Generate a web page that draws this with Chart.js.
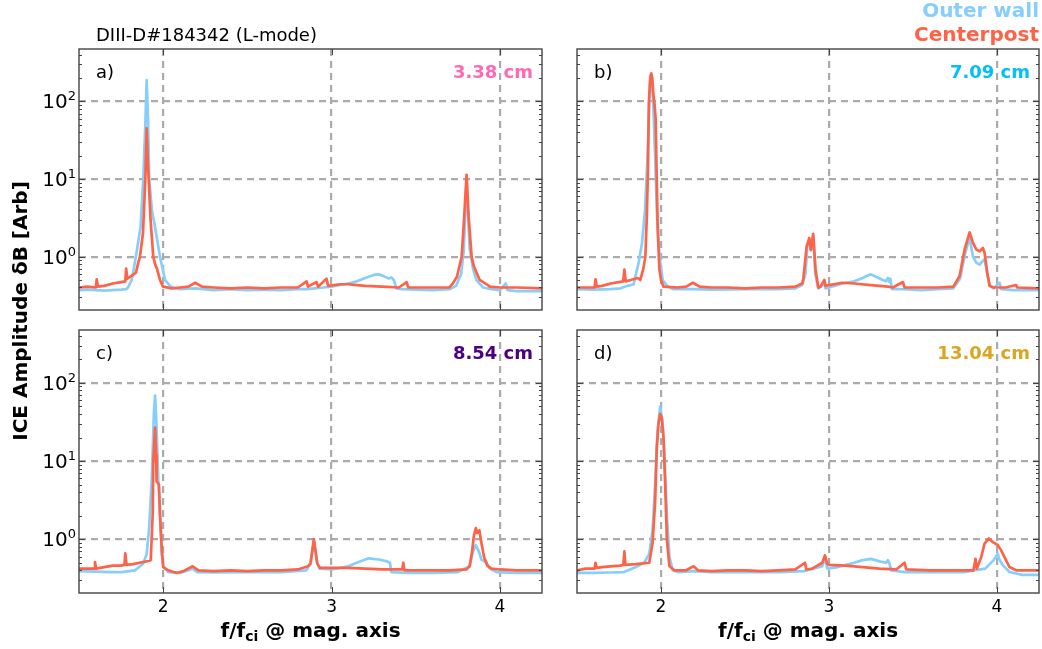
<!DOCTYPE html>
<html>
<head>
<meta charset="utf-8">
<script src="https://cdn.jsdelivr.net/npm/chart.js@4.4.1/dist/chart.umd.min.js"></script>
<style>
  body { margin: 0; background: #fff; }
  #wrap { position: relative; width: 1042px; height: 649px; }
  #wrap canvas { position: absolute; left: 0; top: 0; }
</style>
</head>
<body>
<div id="wrap">
  <canvas id="pa" width="1042" height="649"></canvas>
  <canvas id="pb" width="1042" height="649"></canvas>
  <canvas id="pc" width="1042" height="649"></canvas>
  <canvas id="pd" width="1042" height="649"></canvas>
</div>
<script>
"use strict";

// [f/fci, amplitude]
var OUTER_A = [[1.50,0.37],[1.55,0.375],[1.60,0.37],[1.65,0.365],[1.70,0.37],[1.75,0.375],[1.78,0.38],[1.791,0.40],[1.813,0.50],[1.838,1.0],[1.866,2.45],[1.882,10],[1.895,60],[1.902,188],[1.91,60],[1.917,10],[1.933,4],[1.951,2.45],[1.981,1.0],[2.011,0.5],[2.04,0.42],[2.07,0.39],[2.10,0.38],[2.19,0.39],[2.3,0.37],[2.4,0.38],[2.5,0.37],[2.6,0.375],[2.7,0.37],[2.8,0.38],[2.85,0.38],[2.9,0.39],[2.95,0.40],[3.0,0.41],[3.05,0.43],[3.1,0.45],[3.15,0.48],[3.2,0.53],[3.25,0.58],[3.28,0.59],[3.31,0.56],[3.34,0.52],[3.355,0.54],[3.37,0.50],[3.385,0.39],[3.42,0.38],[3.5,0.375],[3.6,0.37],[3.7,0.38],[3.74,0.42],[3.77,0.6],[3.785,1.2],[3.795,4],[3.802,10],[3.81,4],[3.82,1.3],[3.84,0.7],[3.86,0.5],[3.9,0.4],[3.95,0.38],[4.0,0.37],[4.035,0.45],[4.045,0.37],[4.1,0.36],[4.2,0.36],[4.25,0.36]];
var CENTER_A = [[1.50,0.40],[1.55,0.41],[1.60,0.40],[1.605,0.51],[1.612,0.41],[1.65,0.42],[1.70,0.45],[1.75,0.47],[1.775,0.48],[1.78,0.70],[1.787,0.52],[1.81,0.56],[1.838,0.62],[1.85,0.8],[1.862,1.0],[1.88,2.0],[1.894,10],[1.902,45],[1.908,18],[1.914,10],[1.925,3],[1.941,1.0],[1.952,0.8],[1.963,0.7],[1.981,0.5],[1.999,0.41],[2.05,0.39],[2.1,0.40],[2.15,0.41],[2.19,0.46],[2.23,0.41],[2.3,0.40],[2.4,0.39],[2.5,0.40],[2.6,0.39],[2.7,0.40],[2.8,0.40],[2.852,0.48],[2.86,0.41],[2.911,0.47],[2.92,0.41],[2.97,0.52],[2.98,0.42],[3.05,0.44],[3.1,0.44],[3.15,0.43],[3.2,0.42],[3.3,0.41],[3.4,0.40],[3.446,0.47],[3.455,0.40],[3.5,0.40],[3.6,0.40],[3.70,0.40],[3.72,0.45],[3.745,0.55],[3.773,1.0],[3.788,3.3],[3.802,11.3],[3.814,3.3],[3.832,1.0],[3.845,0.75],[3.862,0.62],[3.88,0.5],[3.921,0.44],[3.94,0.41],[4.0,0.40],[4.1,0.40],[4.25,0.39]];

var OUTER_B = [[1.50,0.38],[1.6,0.375],[1.7,0.38],[1.76,0.39],[1.80,0.42],[1.837,0.44],[1.867,0.84],[1.887,1.5],[1.905,4],[1.92,20],[1.935,215],[1.945,200],[1.955,80],[1.965,20],[1.975,4],[1.985,1.5],[1.996,0.84],[2.01,0.5],[2.036,0.42],[2.07,0.38],[2.1,0.38],[2.2,0.38],[2.3,0.375],[2.5,0.38],[2.7,0.38],[2.8,0.39],[2.84,0.43],[2.86,0.6],[2.87,1.3],[2.883,1.6],[2.892,1.2],[2.906,1.75],[2.918,0.6],[2.936,0.39],[2.972,0.45],[2.98,0.39],[3.0,0.40],[3.08,0.45],[3.15,0.48],[3.2,0.53],[3.23,0.57],[3.25,0.59],[3.28,0.55],[3.32,0.50],[3.34,0.48],[3.35,0.53],[3.36,0.47],[3.365,0.52],[3.375,0.38],[3.45,0.38],[3.55,0.37],[3.65,0.38],[3.74,0.39],[3.78,0.52],[3.81,1.1],[3.837,1.75],[3.857,1.0],[3.877,0.83],[3.897,0.79],[3.916,0.88],[3.926,0.93],[3.942,0.6],[3.956,0.42],[3.98,0.39],[4.015,0.46],[4.025,0.38],[4.1,0.37],[4.25,0.37]];
var CENTER_B = [[1.50,0.40],[1.55,0.40],[1.605,0.40],[1.61,0.51],[1.617,0.41],[1.65,0.42],[1.70,0.45],[1.75,0.47],[1.775,0.48],[1.782,0.68],[1.79,0.48],[1.82,0.50],[1.86,0.53],[1.877,0.50],[1.895,0.7],[1.907,1.0],[1.915,3],[1.922,12],[1.928,100],[1.936,190],[1.942,230],[1.948,200],[1.955,120],[1.962,90],[1.968,60],[1.974,12],[1.98,2.5],[1.99,0.7],[2.0,0.5],[2.015,0.41],[2.1,0.40],[2.15,0.41],[2.19,0.46],[2.23,0.41],[2.3,0.40],[2.4,0.40],[2.5,0.39],[2.6,0.40],[2.7,0.40],[2.8,0.41],[2.84,0.45],[2.847,0.51],[2.867,1.36],[2.883,1.74],[2.892,1.23],[2.906,1.97],[2.92,0.68],[2.936,0.40],[2.95,0.41],[2.972,0.50],[2.98,0.42],[3.0,0.43],[3.08,0.46],[3.15,0.45],[3.25,0.43],[3.35,0.41],[3.38,0.40],[3.44,0.47],[3.45,0.40],[3.55,0.40],[3.65,0.40],[3.74,0.41],[3.777,0.56],[3.807,1.23],[3.837,2.05],[3.857,1.5],[3.877,1.23],[3.897,1.17],[3.916,1.29],[3.926,1.12],[3.942,0.62],[3.956,0.42],[3.98,0.40],[4.05,0.40],[4.114,0.43],[4.12,0.40],[4.25,0.39]];

var OUTER_C = [[1.5,0.39],[1.6,0.385],[1.7,0.38],[1.75,0.38],[1.833,0.40],[1.882,0.49],[1.902,0.65],[1.917,1.44],[1.932,5.8],[1.945,42],[1.952,68.6],[1.96,30],[1.971,5.8],[1.981,2],[1.991,0.65],[2.0,0.45],[2.03,0.38],[2.1,0.37],[2.175,0.42],[2.2,0.38],[2.3,0.375],[2.5,0.38],[2.7,0.38],[2.85,0.40],[2.875,0.49],[2.895,0.95],[2.915,0.49],[2.93,0.42],[3.0,0.41],[3.1,0.45],[3.15,0.5],[3.22,0.57],[3.28,0.55],[3.33,0.52],[3.347,0.5],[3.355,0.38],[3.45,0.37],[3.6,0.37],[3.75,0.38],[3.82,0.45],[3.84,0.7],[3.857,0.84],[3.875,0.7],[3.89,0.55],[3.92,0.5],[3.94,0.42],[3.98,0.38],[4.1,0.37],[4.25,0.37]];
var CENTER_C = [[1.5,0.42],[1.59,0.42],[1.595,0.51],[1.602,0.42],[1.65,0.44],[1.7,0.46],[1.75,0.46],[1.77,0.47],[1.775,0.66],[1.782,0.47],[1.82,0.48],[1.86,0.50],[1.9,0.52],[1.926,0.54],[1.938,2.16],[1.941,9.6],[1.952,26.8],[1.958,12],[1.961,5.5],[1.975,5.0],[1.981,2.1],[1.991,0.8],[2.0,0.44],[2.03,0.40],[2.08,0.37],[2.12,0.39],[2.175,0.45],[2.21,0.40],[2.3,0.39],[2.4,0.40],[2.5,0.39],[2.6,0.40],[2.7,0.40],[2.8,0.41],[2.86,0.45],[2.875,0.49],[2.895,1.0],[2.915,0.49],[2.93,0.43],[3.0,0.43],[3.1,0.43],[3.2,0.42],[3.3,0.41],[3.42,0.41],[3.426,0.50],[3.433,0.40],[3.5,0.40],[3.6,0.40],[3.7,0.40],[3.8,0.41],[3.82,0.45],[3.835,0.7],[3.845,1.1],[3.857,1.39],[3.866,1.2],[3.878,1.3],[3.89,0.9],[3.905,0.6],[3.925,0.46],[3.95,0.42],[4.0,0.41],[4.1,0.40],[4.25,0.40]];

var OUTER_D = [[1.5,0.37],[1.6,0.37],[1.7,0.375],[1.78,0.38],[1.85,0.44],[1.9,0.5],[1.93,0.65],[1.95,1.3],[1.965,5],[1.98,25],[1.995,50],[2.01,30],[2.02,12],[2.035,2],[2.05,0.6],[2.07,0.4],[2.1,0.38],[2.2,0.39],[2.3,0.38],[2.5,0.38],[2.7,0.38],[2.85,0.39],[2.96,0.45],[2.976,0.58],[2.99,0.42],[3.05,0.44],[3.15,0.5],[3.2,0.54],[3.25,0.56],[3.3,0.52],[3.34,0.50],[3.35,0.54],[3.36,0.49],[3.37,0.40],[3.45,0.38],[3.6,0.38],[3.8,0.38],[3.93,0.42],[3.98,0.54],[4.005,0.65],[4.012,0.56],[4.03,0.48],[4.074,0.38],[4.15,0.35],[4.25,0.35]];
var CENTER_D = [[1.5,0.40],[1.55,0.42],[1.605,0.42],[1.61,0.50],[1.617,0.43],[1.65,0.44],[1.7,0.45],[1.758,0.46],[1.776,0.47],[1.782,0.70],[1.788,0.47],[1.85,0.48],[1.93,0.5],[1.95,0.9],[1.965,3],[1.975,15],[1.985,30],[1.995,40],[2.005,35],[2.015,20],[2.025,5],[2.035,1.0],[2.05,0.45],[2.08,0.40],[2.15,0.40],[2.194,0.45],[2.22,0.40],[2.3,0.39],[2.4,0.40],[2.5,0.40],[2.6,0.39],[2.7,0.40],[2.8,0.41],[2.857,0.50],[2.865,0.41],[2.9,0.42],[2.96,0.5],[2.976,0.62],[2.99,0.48],[3.0,0.47],[3.1,0.46],[3.2,0.44],[3.3,0.42],[3.4,0.41],[3.45,0.50],[3.46,0.41],[3.6,0.40],[3.7,0.40],[3.86,0.40],[3.872,0.56],[3.88,0.42],[3.906,0.59],[3.926,0.88],[3.951,1.02],[3.975,0.92],[4.005,0.84],[4.025,0.72],[4.05,0.56],[4.074,0.44],[4.114,0.40],[4.25,0.40]];

var PANEL_TAGS = ['a)', 'b)', 'c)', 'd)'];
var DISTANCES = ['3.38 cm', '7.09 cm', '8.54 cm', '13.04 cm'];
var X_TICKS = [2, 3, 4];
var Y_TICKS = [1, 10, 100];
var Y_EXPONENTS = ['0', '1', '2'];
var SERIES_NAMES = ['Outer wall', 'Centerpost'];

var BLUE = '#87cefa', RED = '#ff6347';
var DIST_COLORS = ['#ff69b4', '#00bfff', '#4b0082', '#daa520'];
var FONT = "'DejaVu Sans', sans-serif";
var W = 1042, H = 649;

// plot boxes: left, top, right, bottom
var boxes = [
    [79, 49, 542, 310],
    [577, 49, 1039, 310],
    [79, 330, 542, 593],
    [577, 330, 1039, 593]
];
var outer = [OUTER_A, OUTER_B, OUTER_C, OUTER_D];
var center = [CENTER_A, CENTER_B, CENTER_C, CENTER_D];

function pts(arr) {
    return arr.map(function (p) { return {x: p[0], y: p[1]}; });
}

function line(ctx, x1, y1, x2, y2) {
    ctx.beginPath(); ctx.moveTo(x1, y1); ctx.lineTo(x2, y2); ctx.stroke();
}

var framePlugin = {
    id: 'frame',
    afterDraw: function (chart, args, o) {
        var ctx = chart.ctx, a = chart.chartArea, sx = chart.scales.x, sy = chart.scales.y;
        ctx.save();
        ctx.strokeStyle = '#444';
        ctx.lineWidth = 1;
        // inward ticks
        X_TICKS.forEach(function (v) {
            var px = Math.round(sx.getPixelForValue(v)) + 0.5;
            line(ctx, px, a.bottom, px, a.bottom - 6);
            line(ctx, px, a.top, px, a.top + 6);
        });
        for (var e = -1; e <= 2; e++) {
            for (var m = 1; m <= 9; m++) {
                var v = m * Math.pow(10, e);
                if (v < sy.min || v > sy.max) continue;
                var py = Math.round(sy.getPixelForValue(v)) + 0.5;
                var len = m === 1 ? 6 : 3;
                line(ctx, a.left, py, a.left + len, py);
                line(ctx, a.right, py, a.right - len, py);
            }
        }
        ctx.lineWidth = 1.4;
        ctx.strokeRect(a.left, a.top, a.right - a.left, a.bottom - a.top);

        ctx.fillStyle = '#000';
        if (o.yLabels) {
            Y_TICKS.forEach(function (v, i) {
                var py = sy.getPixelForValue(v);
                ctx.font = '13px ' + FONT;
                ctx.textAlign = 'right';
                ctx.textBaseline = 'alphabetic';
                var ew = ctx.measureText(Y_EXPONENTS[i]).width;
                ctx.fillText(Y_EXPONENTS[i], a.left - 3, py - 1);
                ctx.font = '20px ' + FONT;
                ctx.fillText('10', a.left - 3 - ew, py + 7);
            });
        }
        if (o.xLabels) {
            ctx.font = '17px ' + FONT;
            ctx.textAlign = 'center';
            ctx.textBaseline = 'alphabetic';
            X_TICKS.forEach(function (v) {
                ctx.fillText(String(v), sx.getPixelForValue(v), a.bottom + 19);
            });
            // axis title with subscript
            var cx = (a.left + a.right) / 2, by = a.bottom + 44;
            var p1 = 'f/f', sub = 'ci', p2 = ' @ mag. axis';
            ctx.font = 'bold 20px ' + FONT;
            var w1 = ctx.measureText(p1).width, w3 = ctx.measureText(p2).width;
            ctx.font = 'bold 14px ' + FONT;
            var w2 = ctx.measureText(sub).width;
            var x0 = cx - (w1 + w2 + w3) / 2;
            ctx.textAlign = 'left';
            ctx.font = 'bold 20px ' + FONT;
            ctx.fillText(p1, x0, by);
            ctx.font = 'bold 14px ' + FONT;
            ctx.fillText(sub, x0 + w1, by + 4);
            ctx.font = 'bold 20px ' + FONT;
            ctx.fillText(p2, x0 + w1 + w2, by);
        }
        // panel tag and distance
        ctx.textBaseline = 'alphabetic';
        ctx.font = '18px ' + FONT;
        ctx.textAlign = 'left';
        ctx.fillStyle = '#000';
        ctx.fillText(o.tag, a.left + 17, a.top + 29);
        ctx.font = 'bold 18px ' + FONT;
        ctx.textAlign = 'right';
        ctx.fillStyle = o.distColor;
        ctx.fillText(o.dist, a.right - 9, a.top + 29);

        if (o.pageText) {
            ctx.fillStyle = '#000';
            ctx.font = '18px ' + FONT;
            ctx.textAlign = 'left';
            ctx.fillText('DIII-D#184342 (L-mode)', 96, 40.5);
            ctx.font = 'bold 20px ' + FONT;
            ctx.textAlign = 'right';
            ctx.fillStyle = BLUE;
            ctx.fillText(SERIES_NAMES[0], 1039, 17);
            ctx.fillStyle = RED;
            ctx.fillText(SERIES_NAMES[1], 1039, 41);
            ctx.save();
            ctx.translate(22, 311);
            ctx.rotate(-Math.PI / 2);
            ctx.fillStyle = '#000';
            ctx.font = 'bold 20px ' + FONT;
            ctx.textAlign = 'center';
            ctx.textBaseline = 'middle';
            ctx.fillText('ICE Amplitude \u03b4B [Arb]', 0, 0);
            ctx.restore();
        }
        ctx.restore();
    }
};

var gridOpts = {color: '#ababab', lineWidth: 2.2, drawTicks: false};
var borderOpts = {display: false, dash: [7, 5]};

['pa', 'pb', 'pc', 'pd'].forEach(function (id, i) {
    var b = boxes[i];
    new Chart(document.getElementById(id), {
        type: 'line',
        data: {
            datasets: [{
                label: SERIES_NAMES[1],
                data: pts(center[i]),
                borderColor: RED,
                borderWidth: 2.7,
                borderJoinStyle: 'round',
                borderCapStyle: 'round',
                pointRadius: 0,
                tension: 0,
                order: 1
            }, {
                label: SERIES_NAMES[0],
                data: pts(outer[i]),
                borderColor: BLUE,
                borderWidth: 2.7,
                borderJoinStyle: 'round',
                borderCapStyle: 'round',
                pointRadius: 0,
                tension: 0,
                order: 2
            }]
        },
        options: {
            responsive: false,
            animation: false,
            events: [],
            layout: {padding: {left: b[0], top: b[1], right: W - b[2], bottom: H - b[3]}},
            plugins: {
                legend: {display: false},
                tooltip: {enabled: false},
                frame: {
                    tag: PANEL_TAGS[i],
                    dist: DISTANCES[i],
                    distColor: DIST_COLORS[i],
                    xLabels: i >= 2,
                    yLabels: i % 2 === 0,
                    pageText: i === 0
                }
            },
            scales: {
                x: {
                    type: 'linear',
                    min: 1.5,
                    max: 4.25,
                    afterBuildTicks: function (s) { s.ticks = X_TICKS.map(function (v) { return {value: v}; }); },
                    afterFit: function (s) { s.height = 0; },
                    ticks: {display: false},
                    grid: gridOpts,
                    border: borderOpts
                },
                y: {
                    type: 'logarithmic',
                    min: 0.205,
                    max: 475,
                    afterBuildTicks: function (s) { s.ticks = Y_TICKS.map(function (v) { return {value: v}; }); },
                    afterFit: function (s) { s.width = 0; },
                    ticks: {display: false},
                    grid: gridOpts,
                    border: borderOpts
                }
            }
        },
        plugins: [framePlugin]
    });
});
</script>
</body>
</html>
